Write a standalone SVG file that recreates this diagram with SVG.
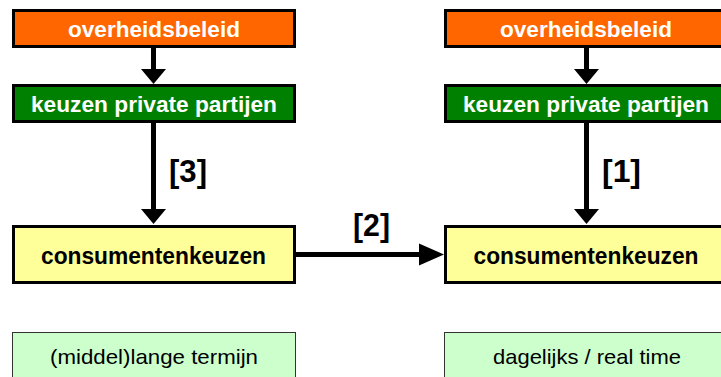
<svg xmlns="http://www.w3.org/2000/svg" width="721" height="377" viewBox="0 0 721 377">
  <style>
    .box { stroke: #000; stroke-width: 3; }
    .policy { fill: #FF6600; }
    .private { fill: #008000; }
    .consumer { fill: #FFFF99; }
    .horizon { fill: #CCFFCC; stroke: #333; stroke-width: 1; }
    .t { font-family: "Liberation Sans", Arial, sans-serif; text-anchor: middle; }
    .bold { font-weight: bold; }
    .white { fill: #fff; font-size: 22px; }
    .dark { fill: #000; font-size: 23px; }
    .plain { fill: #000; font-size: 21px; }
    .lbl { font-family: "Liberation Sans", Arial, sans-serif; font-weight: bold; font-size: 31px; fill: #000; }
    .conn { stroke: #000; stroke-width: 5; fill: none; }
    .down { marker-end: url(#ah); }
    .across { marker-end: url(#ah-long); }
  </style>
  <defs>
    <marker id="ah" markerUnits="userSpaceOnUse" viewBox="0 -13 16 26" markerWidth="16" markerHeight="26" refX="1" refY="0" orient="auto">
      <path d="M0,-12.5 L15,0 L0,12.5 z" fill="#000"/>
    </marker>
    <marker id="ah-long" markerUnits="userSpaceOnUse" viewBox="0 -12 26 24" markerWidth="26" markerHeight="24" refX="1" refY="0" orient="auto">
      <path d="M0,-11 L25,0 L0,11 z" fill="#000"/>
    </marker>
  </defs>

  <rect width="721" height="377" fill="#fff"/>

  <!-- left column: long term -->
  <g id="beleid-links">
    <rect class="box policy" x="13.5" y="10.5" width="281" height="36"/>
    <text class="t bold white" x="154" y="36.5" textLength="172" lengthAdjust="spacingAndGlyphs">overheidsbeleid</text>
  </g>
  <g id="private-links">
    <rect class="box private" x="13.5" y="85.5" width="281" height="36"/>
    <text class="t bold white" x="154" y="112" textLength="246" lengthAdjust="spacingAndGlyphs">keuzen private partijen</text>
  </g>
  <g id="consument-links">
    <rect class="box consumer" x="13.5" y="226.5" width="281" height="56"/>
    <text class="t bold dark" x="153.5" y="264" textLength="225" lengthAdjust="spacingAndGlyphs">consumentenkeuzen</text>
  </g>
  <g id="termijn-links">
    <rect class="horizon" x="12.5" y="332.5" width="283" height="60"/>
    <text class="t plain" x="154" y="364" textLength="208" lengthAdjust="spacingAndGlyphs">(middel)lange termijn</text>
  </g>

  <!-- right column: daily / real time -->
  <g id="beleid-rechts">
    <rect class="box policy" x="445.5" y="10.5" width="281" height="36"/>
    <text class="t bold white" x="586" y="36.5" textLength="172" lengthAdjust="spacingAndGlyphs">overheidsbeleid</text>
  </g>
  <g id="private-rechts">
    <rect class="box private" x="445.5" y="85.5" width="281" height="36"/>
    <text class="t bold white" x="586" y="112" textLength="246" lengthAdjust="spacingAndGlyphs">keuzen private partijen</text>
  </g>
  <g id="consument-rechts">
    <rect class="box consumer" x="445.5" y="226.5" width="281" height="56"/>
    <text class="t bold dark" x="586" y="264" textLength="225" lengthAdjust="spacingAndGlyphs">consumentenkeuzen</text>
  </g>
  <g id="termijn-rechts">
    <rect class="horizon" x="444.5" y="332.5" width="283" height="60"/>
    <text class="t plain" x="587" y="364" textLength="188" lengthAdjust="spacingAndGlyphs">dagelijks / real time</text>
  </g>

  <!-- connectors -->
  <g id="connectors">
    <line class="conn down" x1="153.5" y1="48" x2="153.5" y2="70"/>
    <line class="conn down" x1="153.5" y1="123" x2="153.5" y2="210"/>
    <line class="conn down" x1="586.5" y1="48" x2="586.5" y2="70"/>
    <line class="conn down" x1="586.5" y1="123" x2="586.5" y2="210"/>
    <line class="conn across" x1="296" y1="254.5" x2="420" y2="254.5"/>
    <text class="lbl" x="169" y="182" textLength="38" lengthAdjust="spacingAndGlyphs">[3]</text>
    <text class="lbl" x="602" y="182" textLength="39" lengthAdjust="spacingAndGlyphs">[1]</text>
    <text class="lbl" x="353" y="236" textLength="37" lengthAdjust="spacingAndGlyphs">[2]</text>
  </g>
</svg>
